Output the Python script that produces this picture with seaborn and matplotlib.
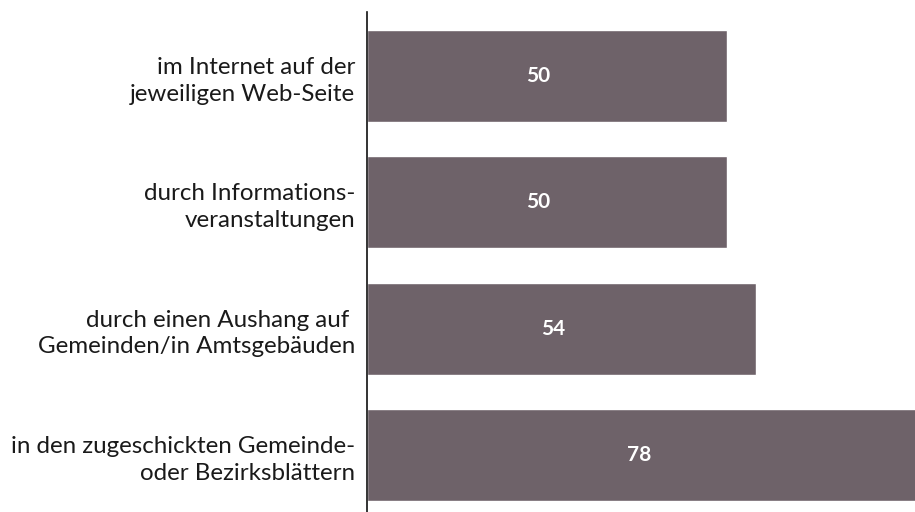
import matplotlib
matplotlib.use("Agg")
import matplotlib.pyplot as plt
import seaborn as sns
import pandas as pd

categories = [
    "im Internet auf der\njeweiligen Web-Seite",
    "durch Informations-\nveranstaltungen",
    "durch einen Aushang auf \nGemeinden/in Amtsgebäuden",
    "in den zugeschickten Gemeinde-\noder Bezirksblättern",
]
values = [50, 50, 54, 78]

df = pd.DataFrame({"Kategorie": categories, "Wert": values})

sns.set_style("white")
plt.rcParams["font.family"] = ["Lato", "DejaVu Sans"]

fig = plt.figure(figsize=(9.15, 5.12), dpi=100)
ax = fig.add_axes([367 / 915, 0, 1 - 367 / 915, 1 - 12 / 512])

sns.barplot(data=df, x="Wert", y="Kategorie", orient="h", color="#6e6269",
            saturation=1, width=0.728, ax=ax)

# value labels inside the bars
for i, v in enumerate(values):
    ax.text(v / 2 - 1.2, i, str(v), color="white", fontsize=15,
            fontweight="bold", ha="center", va="center")

ax.set_xlim(0, 76.1)
ax.set_ylim(3.45, -0.507)
ax.set_xlabel("")
ax.set_ylabel("")
ax.set_xticks([])
ax.tick_params(axis="y", length=0, pad=8.5, labelsize=17.4, labelcolor="#1a1a1a")
for lab in ax.get_yticklabels():
    lab.set_multialignment("right")
    lab.set_linespacing(1.32)
for s in ["top", "right", "bottom"]:
    ax.spines[s].set_visible(False)
ax.spines["left"].set_color("#111111")
ax.spines["left"].set_linewidth(1.2)

fig.savefig("out.png", dpi=100)
